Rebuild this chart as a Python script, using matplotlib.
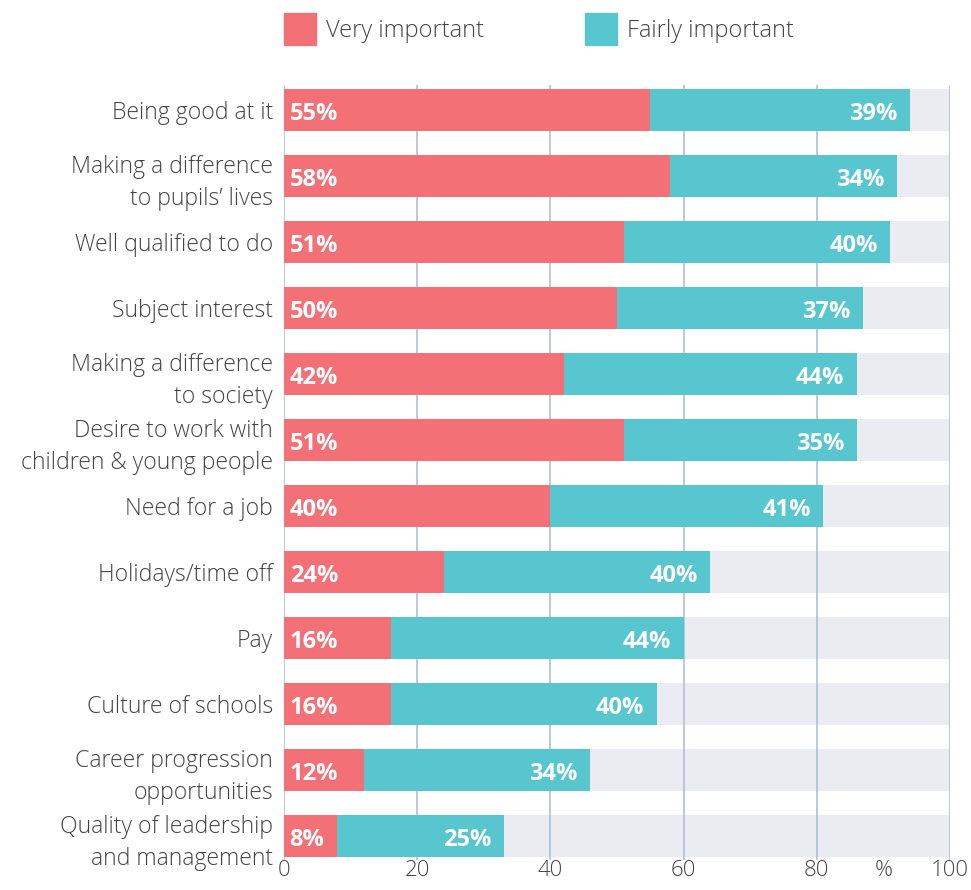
import matplotlib.pyplot as plt
from matplotlib.patches import Patch

# data
labels = ["Being good at it",
          "Making a difference\nto pupils\u2019 lives",
          "Well qualified to do",
          "Subject interest",
          "Making a difference\nto society",
          "Desire to work with\nchildren & young people",
          "Need for a job",
          "Holidays/time off",
          "Pay",
          "Culture of schools",
          "Career progression\nopportunities",
          "Quality of leadership\nand management"]
very = [55, 58, 51, 50, 42, 51, 40, 24, 16, 16, 12, 8]
fairly = [39, 34, 40, 37, 44, 35, 41, 40, 44, 40, 34, 25]
xticks = [0, 20, 40, 60, 80, 90, 100]
xticklabels = ["0", "20", "40", "60", "80", "%", "100"]

red = "#f37176"
teal = "#58c6cf"
grey = "#ebecf1"
grid = "#a9c0d8"
txt = "#444444"

plt.rcParams['font.family'] = ['Open Sans', 'DejaVu Sans']

W, H = 971, 890
fig = plt.figure(figsize=(W / 100, H / 100), dpi=100)
# axes placed in pixel terms
left, right, top, bottom = 284, 950, 85, 860
ax = fig.add_axes([left / W, 1 - bottom / H, (right - left) / W, (bottom - top) / H])

y = list(range(len(labels)))
h = 0.64
ax.barh(y, [100] * len(y), height=h, color=grey, zorder=1)
for g in [0, 20, 40, 60, 80, 100]:
    ax.axvline(g, color=grid, lw=1.2, zorder=2)
ax.barh(y, very, height=h, color=red, zorder=3)
ax.barh(y, fairly, left=very, height=h, color=teal, zorder=3)

for i in y:
    ax.annotate(f"{very[i]}%", (0, i), xytext=(4, -3), textcoords="offset points",
                ha="left", va="center", color="white", fontsize=17,
                fontweight="bold", zorder=4)
    ax.annotate(f"{fairly[i]}%", (very[i] + fairly[i], i), xytext=(-9, -3),
                textcoords="offset points", ha="right", va="center",
                color="white", fontsize=17, fontweight="bold", zorder=4)

ax.set_xlim(0, 100)
ax.set_ylim((bottom - 110) / 66, (top - 110) / 66)
ax.set_yticks(y)
ax.set_yticklabels(labels, fontsize=16.6, color=txt, linespacing=1.42,
                   fontweight="light")
ax.set_xticks(xticks)
ax.set_xticklabels(xticklabels, fontsize=16, color=txt, fontweight="light")
ax.tick_params(axis="y", length=0, pad=8)
ax.tick_params(axis="x", length=0, pad=0)
for s in ax.spines.values():
    s.set_visible(False)

handles = [Patch(color=red, label="Very important"),
           Patch(color=teal, label="Fairly important")]
leg = fig.legend(handles=handles, loc="upper left", bbox_to_anchor=(left / W, 1 - 13 / H),
                 ncol=2, frameon=False, fontsize=17, borderpad=0, borderaxespad=0,
                 handlelength=1.35, handleheight=1.7, handletextpad=0.42,
                 columnspacing=4.3, labelcolor=txt)
for t in leg.get_texts():
    t.set_fontweight("light")

fig.savefig("out.png", dpi=100)
